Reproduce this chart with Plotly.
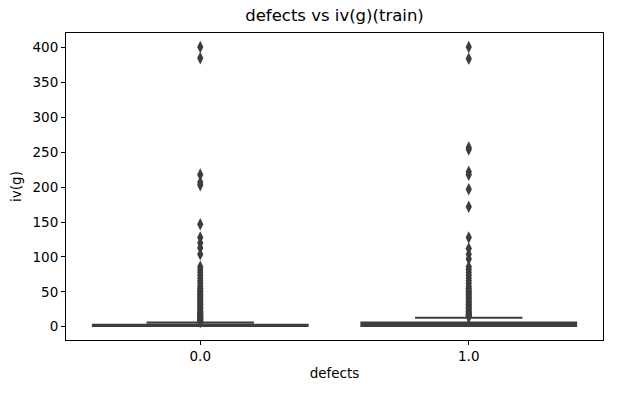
import plotly.graph_objects as go

# ---- data ----
categories = [0, 1]
category_labels = ["0.0", "1.0"]
q1_values = [1, 1]
median_values = [1, 3]
q3_values = [3, 6]
lower_fence = [1, 1]
upper_fence = [6, 13]

outliers_0 = [401, 385, 218, 207, 203, 147, 128, 120, 113, 104,
              86, 82, 78, 74, 70, 66, 62, 58, 55, 52, 50, 48, 46, 44, 42,
              40, 38, 36, 34, 32, 30, 28, 26, 24, 22, 20, 19, 18, 17, 16,
              15, 14, 13, 12, 11, 10, 9, 8, 7]
outliers_1 = [401, 384, 257, 254, 222, 218, 197, 172, 128, 112, 104, 97,
              86, 82, 78, 74, 70, 66, 62, 58, 55, 52, 50, 48, 46, 44, 42,
              40, 38, 36, 34, 32, 30, 28, 26, 24, 22, 20, 19, 18, 17, 16,
              15, 14]

y_ticks = [0, 50, 100, 150, 200, 250, 300, 350, 400]

DARK = "#3d3d3d"
FONT = "DejaVu Sans"

fig = go.Figure()
for i, c in enumerate(categories):
    fig.add_trace(go.Box(
        x=[c], q1=[q1_values[i]], median=[median_values[i]], q3=[q3_values[i]],
        lowerfence=[lower_fence[i]], upperfence=[upper_fence[i]],
        width=0.8, whiskerwidth=0.5, boxpoints=False,
        fillcolor=DARK, line=dict(color=DARK, width=2),
        showlegend=False, hoverinfo="skip",
    ))

for c, outs in zip(categories, [outliers_0, outliers_1]):
    fig.add_trace(go.Scatter(
        x=[c] * len(outs), y=outs, mode="markers",
        marker=dict(symbol="diamond-tall", size=9, color=DARK,
                    line=dict(width=0)),
        showlegend=False, hoverinfo="skip",
    ))

axis_common = dict(
    showline=True, linecolor="black", linewidth=1, mirror=True,
    ticks="outside", ticklen=4, tickcolor="black", tickwidth=1,
    showgrid=False, zeroline=False,
    tickfont=dict(family=FONT, size=13.5, color="black"),
)

fig.update_layout(
    width=618, height=393,
    margin=dict(l=66, r=15, t=33, b=53),
    paper_bgcolor="white", plot_bgcolor="white",
    title=dict(text="defects vs iv(g)(train)", x=0.5, xref="paper",
               y=1, yref="container", yanchor="top", pad=dict(t=9),
               font=dict(family=FONT, size=16.5, color="black")),
    xaxis=dict(range=[-0.5, 1.5], tickvals=categories, ticktext=category_labels,
               title=dict(text="defects", standoff=5,
                          font=dict(family=FONT, size=13.5, color="black")),
               **axis_common),
    yaxis=dict(range=[-19, 421], tickvals=y_ticks,
               title=dict(text="iv(g)", standoff=7,
                          font=dict(family=FONT, size=13.5, color="black")),
               **axis_common),
)

fig.write_html("out.html", config={"displayModeBar": False, "staticPlot": True})

# remove the browser's default page margin so the figure sits at (0, 0)
with open("out.html", encoding="utf-8") as f:
    html = f.read()
html = html.replace("<head>", "<head><style>html,body{margin:0;padding:0;overflow:hidden;}</style>", 1)
with open("out.html", "w", encoding="utf-8") as f:
    f.write(html)
